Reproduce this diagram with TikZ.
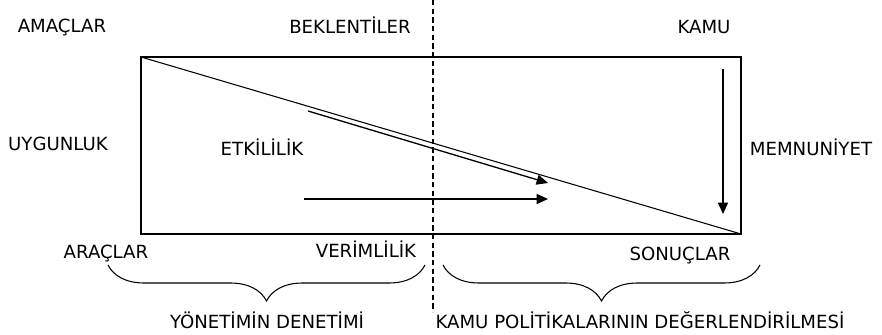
\documentclass[tikz,border=0pt]{standalone}
\usepackage{fontspec}
\setmainfont{DejaVu Sans}
\usetikzlibrary{arrows.meta,decorations.pathreplacing}

\begin{document}
\begin{tikzpicture}[x=0.75pt, y=-0.75pt,
    lbl/.style={anchor=base, inner sep=0pt, font=\fontsize{13.6}{16}\selectfont},
    arr/.style={-{Triangle[length=8.5pt,width=7.5pt]}, line width=1pt},
    brc/.style={decorate, decoration={brace, mirror, amplitude=27pt}, line width=0.8pt}]
  \useasboundingbox (0,0) rectangle (882,335);

  % box and diagonal
  \coordinate (nw) at (141,57);
  \coordinate (se) at (741,234);
  \draw[line width=1.1pt] (nw) rectangle (se);
  \draw[line width=0.8pt] (nw) -- (se);

  % dashed divider
  \coordinate (dtop) at (433,0);
  \coordinate (dbot) at (433,312);
  \draw[line width=0.8pt, dash pattern=on 4pt off 2.5pt] (dtop) -- (dbot);

  % arrows
  \coordinate (etkA) at (308,111);
  \coordinate (etkB) at (548,183);
  \coordinate (verA) at (304,199);
  \coordinate (verB) at (548,199);
  \coordinate (kamA) at (723,69);
  \coordinate (kamB) at (723,214);
  \draw[arr] (etkA) -- (etkB);
  \draw[arr] (verA) -- (verB);
  \draw[arr] (kamA) -- (kamB);

  % labels
  \node[lbl] (amaclar) at (62,33) {AMAÇLAR};
  \node[lbl] (beklentiler) at (350,34) {BEKLENTİLER};
  \node[lbl] (kamu) at (704,34) {KAMU};
  \node[lbl] (uygunluk) at (58,150) {UYGUNLUK};
  \node[lbl] (etkililik) at (262,156) {ETKİLİLİK};
  \node[lbl] (memnuniyet) at (811,156) {MEMNUNİYET};
  \node[lbl] (araclar) at (106,258) {ARAÇLAR};
  \node[lbl] (verimlilik) at (366,257) {VERİMLİLİK};
  \node[lbl] (sonuclar) at (680,260) {SONUÇLAR};
  \node[lbl] (yonetim) at (267,328) {YÖNETİMİN DENETİMİ};
  \node[lbl] (politika) at (640,328) {KAMU POLİTİKALARININ DEĞERLENDİRİLMESİ};

  % braces
  \coordinate (b1a) at (108,265);
  \coordinate (b1b) at (425,265);
  \coordinate (b2a) at (443,265);
  \coordinate (b2b) at (760,265);
  \draw[brc] (b1a) -- (b1b);
  \draw[brc] (b2a) -- (b2b);
\end{tikzpicture}
\end{document}
